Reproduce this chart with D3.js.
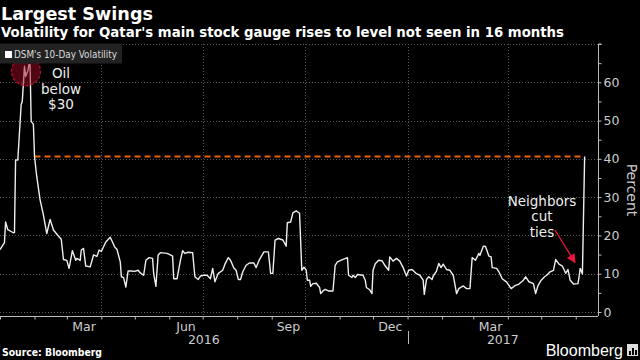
<!DOCTYPE html>
<html><head><meta charset="utf-8">
<script src="https://cdn.jsdelivr.net/npm/d3@7"></script>
<style>html,body{margin:0;padding:0;background:#000;}svg{display:block;}</style>
</head><body>
<svg id="c" width="640" height="360"></svg>
<script>
// ---- data ----
const dates = ["2016-01-01","2016-01-05","2016-01-06","2016-01-08","2016-01-13","2016-01-14","2016-01-15","2016-01-17","2016-01-20","2016-01-21","2016-01-23","2016-01-24","2016-01-26","2016-01-27","2016-01-28","2016-01-29","2016-01-31",
"2016-02-01","2016-02-03","2016-02-06","2016-02-09","2016-02-12","2016-02-15","2016-02-18","2016-02-22","2016-02-25","2016-02-27",
"2016-03-01","2016-03-03","2016-03-06","2016-03-09","2016-03-10","2016-03-13","2016-03-14","2016-03-16","2016-03-18","2016-03-22","2016-03-25","2016-03-28","2016-03-30",
"2016-04-01","2016-04-05","2016-04-09","2016-04-11","2016-04-13","2016-04-15","2016-04-18","2016-04-19","2016-04-21","2016-04-23","2016-04-25","2016-04-28",
"2016-05-01","2016-05-04","2016-05-06","2016-05-09","2016-05-11","2016-05-14","2016-05-17","2016-05-18","2016-05-20","2016-05-22","2016-05-24","2016-05-30",
"2016-06-02","2016-06-04","2016-06-05","2016-06-08","2016-06-11","2016-06-13","2016-06-15","2016-06-18","2016-06-22","2016-06-24","2016-06-27","2016-06-29",
"2016-07-02","2016-07-05","2016-07-08","2016-07-10","2016-07-12","2016-07-15","2016-07-19","2016-07-21","2016-07-24","2016-07-26","2016-07-29","2016-07-31",
"2016-08-02","2016-08-04","2016-08-06","2016-08-09","2016-08-12","2016-08-16","2016-08-18","2016-08-21","2016-08-25","2016-08-29","2016-08-31",
"2016-09-02","2016-09-04","2016-09-07","2016-09-11","2016-09-14","2016-09-15","2016-09-18","2016-09-20","2016-09-23","2016-09-26","2016-09-28","2016-09-30",
"2016-10-02","2016-10-03","2016-10-05","2016-10-06","2016-10-08","2016-10-11","2016-10-14","2016-10-15","2016-10-17","2016-10-19","2016-10-22","2016-10-26","2016-10-28","2016-10-30",
"2016-11-03","2016-11-08","2016-11-09","2016-11-12","2016-11-13","2016-11-15","2016-11-17","2016-11-22","2016-11-24","2016-11-25","2016-11-28","2016-11-30",
"2016-12-01","2016-12-03","2016-12-06","2016-12-09","2016-12-12","2016-12-15","2016-12-16","2016-12-19","2016-12-22","2016-12-25","2016-12-28","2016-12-31",
"2017-01-02","2017-01-05","2017-01-09","2017-01-12","2017-01-15","2017-01-16","2017-01-18","2017-01-20","2017-01-23","2017-01-24","2017-01-27","2017-01-29","2017-01-31",
"2017-02-02","2017-02-05","2017-02-08","2017-02-11","2017-02-14","2017-02-16","2017-02-20","2017-02-23","2017-02-26","2017-02-28",
"2017-03-03","2017-03-06","2017-03-07","2017-03-10","2017-03-12","2017-03-15","2017-03-17","2017-03-18","2017-03-22","2017-03-24","2017-03-27","2017-03-31",
"2017-04-04","2017-04-07","2017-04-11","2017-04-15","2017-04-17","2017-04-20","2017-04-24","2017-04-26","2017-04-28",
"2017-05-01","2017-05-04","2017-05-06","2017-05-09","2017-05-12","2017-05-14","2017-05-17","2017-05-20","2017-05-23","2017-05-25","2017-05-27","2017-05-30",
"2017-06-03","2017-06-04","2017-06-05","2017-06-07","2017-06-09"];
const volatility = [16.3,18.1,23.5,21.5,20.7,20.8,39.7,39.7,54.2,55,64.2,61.5,63,64.6,64.6,49.8,49,
40.6,35.4,29.3,25.3,20.5,24.2,21.4,20,19,13.7,
13.5,11.4,16,13.5,14,13.5,16.2,16.6,12,11.8,14.9,14.5,16.2,
15.8,18.3,19.5,18.3,17,16.4,13.1,9.2,9,6.5,10.7,10.7,
10.6,10.9,10.2,9.6,13.5,14.2,14,10,6.7,14.9,15.5,15.3,
14.9,14.6,8.7,8.7,13.5,16,15.3,15.6,15.5,9.2,8.5,9.4,
9.6,9.6,8.7,11.4,7.9,10.1,10.9,12.5,14.2,13.5,11.5,10.9,
8.5,8.5,10.5,12.2,12.8,12.8,11.6,13.7,15.7,15.7,10.1,
10.1,18.8,19.2,18.8,17.2,23.3,23.5,25.9,26.4,25.8,10.9,11.7,
10.9,8.3,8.3,6.7,7.4,7.5,6.4,4.8,5.5,5.9,5.5,5.5,12.2,13.1,
13.6,14.2,9.6,9,9.6,9,9.8,9.6,8.3,6.4,5.8,4.8,
10.9,12.6,13.5,13.4,12,10.9,14.4,13.3,14,13.3,11.6,9.4,
10.9,11.1,10,9.6,8.3,4.6,8.5,9.2,8.5,9.4,10.7,12.7,11.6,
12.5,11.1,10.9,9.6,4.8,6.1,6.8,6.1,6.1,14.2,
13.5,15.3,14.8,17.2,17.1,14.6,14.4,11.6,11.4,10.5,8.7,7.8,
6.1,6.8,7.3,8.3,9.2,7.9,7.4,4.8,6.8,
8.3,9.2,9.6,10.5,10.9,13.7,12.5,12,10.1,11.1,8.3,7.3,
7.4,9.2,11.4,9.9,40.6];
const yTicks = [0,10,20,30,40,50,60];
const monthLabels = ["Mar","Jun","Sep","Dec","Mar"];
const monthLabelDates = ["2016-03-01","2016-06-01","2016-09-01","2016-12-01","2017-03-01"];
const yearLabels = ["2016","2017"];
const gridDates = ["2016-04-01","2016-07-01","2016-10-01","2017-01-01","2017-04-01"];
const refStart = "2016-02-01", refEnd = "2017-06-09", refValue = 40.6;

// ---- chart ----
const parse = d3.utcParse("%Y-%m-%d");
const data = dates.map((d,i)=>({date:parse(d), v:volatility[i]}));
const svg = d3.select("#c");
svg.append("rect").attr("width",640).attr("height",360).attr("fill","#000");

const x0 = parse("2016-01-01"), x1 = parse("2017-06-21");
const x = d3.scaleUtc().domain([x0,x1]).range([0,598]);
const y = d3.scaleLinear().domain([0,70]).range([312,44]);
const font = "'DejaVu Sans', sans-serif";

// titles
svg.append("text").attr("x",1).attr("y",19.5).attr("fill","#fff").attr("font-family",font)
  .attr("font-weight","bold").attr("font-size",18).attr("textLength",152).attr("lengthAdjust","spacingAndGlyphs").text("Largest Swings");
svg.append("text").attr("x",1).attr("y",37).attr("fill","#fff").attr("font-family",font)
  .attr("font-weight","bold").attr("font-size",14).attr("textLength",563).attr("lengthAdjust","spacingAndGlyphs")
  .text("Volatility for Qatar's main stock gauge rises to level not seen in 16 months");

// grid
const grid = svg.append("g").attr("stroke","#555").attr("stroke-width",1).attr("stroke-dasharray","1,2");
grid.selectAll("line.h").data(d3.range(0,71,10)).join("line").attr("class","h")
  .attr("x1",0).attr("x2",598).attr("y1",d=>Math.round(y(d))+0.5).attr("y2",d=>Math.round(y(d))+0.5);
grid.selectAll("line.v").data(gridDates.map(parse)).join("line").attr("class","v")
  .attr("x1",d=>Math.round(x(d))+0.5).attr("x2",d=>Math.round(x(d))+0.5).attr("y1",44).attr("y2",316);

// x axis
const xAxis = d3.axisBottom(x).ticks(d3.utcMonth.every(1)).tickSize(3).tickFormat("");
const gx = svg.append("g").attr("transform","translate(0,316.5)").call(xAxis);
gx.select(".domain").attr("stroke","#bbb").attr("d","M0,0H598");
gx.selectAll(".tick line").attr("stroke","#bbb");
const mid = d => new Date((+d + +d3.utcMonth.offset(d,1))/2);
svg.selectAll("text.ml").data(monthLabelDates.map(parse)).join("text").attr("class","ml")
  .attr("x",d=>x(mid(d))).attr("y",331).attr("text-anchor","middle").attr("fill","#ccc")
  .attr("font-family",font).attr("font-size",12.5).text((d,i)=>monthLabels[i]);
const yearSpan = [[x0, parse("2017-01-01")],[parse("2017-01-01"), x1]];
svg.selectAll("text.yl").data(yearSpan).join("text").attr("class","yl")
  .attr("x",d=>(x(d[0])+x(d[1]))/2).attr("y",344).attr("text-anchor","middle").attr("fill","#ccc")
  .attr("font-family",font).attr("font-size",12.5).text((d,i)=>yearLabels[i]);
svg.append("line").attr("x1",Math.round(x(parse("2017-01-01")))+0.5).attr("x2",Math.round(x(parse("2017-01-01")))+0.5)
  .attr("y1",331).attr("y2",344).attr("stroke","#bbb");

// y axis (right)
const yAxis = d3.axisRight(y).tickValues(d3.range(0,71,5)).tickSize(3).tickPadding(2)
  .tickFormat(d=>yTicks.includes(d)?d:"");
const gy = svg.append("g").attr("transform","translate(598.5,0)").call(yAxis);
gy.select(".domain").attr("stroke","#bbb").attr("d","M3,44H0V316");
gy.selectAll(".tick line").attr("stroke","#bbb");
gy.selectAll(".tick text").attr("fill","#ccc").attr("font-family",font).attr("font-size",12.5);
svg.append("text").attr("transform","translate(627,190) rotate(90)").attr("text-anchor","middle")
  .attr("fill","#ccc").attr("font-family",font).attr("font-size",14).text("Percent");

// reference dashed line
svg.append("line").attr("x1",x(parse(refStart))).attr("x2",x(parse(refEnd)))
  .attr("y1",y(refValue)).attr("y2",y(refValue)).attr("stroke","#e8620e").attr("stroke-width",2)
  .attr("stroke-dasharray","6,4");

// series line
const line = d3.line().x(d=>x(d.date)).y(d=>y(d.v));
svg.append("path").datum(data).attr("d",line).attr("fill","none").attr("stroke","#eee").attr("stroke-width",1.4)
  .attr("stroke-linejoin","round");

// circle annotation
const peak = data.reduce((a,b)=>b.v>a.v?b:a);
svg.append("circle").attr("cx",x(peak.date)-3).attr("cy",y(peak.v)+6.5).attr("r",14.5)
  .attr("fill","rgba(160,12,36,0.5)").attr("stroke","#b81236").attr("stroke-width",1.2).attr("stroke-dasharray","3,2");

// legend
svg.append("rect").attr("x",0).attr("y",43.5).attr("width",122).attr("height",20).attr("fill","#222");
svg.append("rect").attr("x",5).attr("y",51).attr("width",7).attr("height",7).attr("fill","#fff");
svg.append("text").attr("x",14).attr("y",58.3).attr("fill","#ddd").attr("font-family",font).attr("font-size",10.5)
  .attr("textLength",103).attr("lengthAdjust","spacingAndGlyphs").text("DSM's 10-Day Volatility");

// annotations text
const ann = (lines, cx, y0) => lines.forEach((t,i)=>svg.append("text").attr("x",cx).attr("y",y0+i*15.5)
  .attr("text-anchor","middle").attr("fill","#eee").attr("font-family",font).attr("font-size",13.5).text(t));
ann(["Oil","below","$30"], 61, 78);
ann(["Neighbors","cut","ties"], 542, 205.5);

// red arrow
svg.append("defs").append("marker").attr("id","ah").attr("viewBox","0 0 10 10").attr("refX",9).attr("refY",5)
  .attr("markerWidth",7).attr("markerHeight",7).attr("orient","auto")
  .append("path").attr("d","M0,0L10,5L0,10z").attr("fill","#e8173a");
svg.append("line").attr("x1",555).attr("y1",230).attr("x2",575).attr("y2",262.5).attr("stroke","#e8173a")
  .attr("stroke-width",1.3).attr("marker-end","url(#ah)");

// footer
svg.append("text").attr("x",2).attr("y",356).attr("fill","#fff").attr("font-family",font).attr("font-weight","bold")
  .attr("font-size",10.5).attr("textLength",100).attr("lengthAdjust","spacingAndGlyphs").text("Source: Bloomberg");
svg.append("text").attr("x",623).attr("y",356).attr("text-anchor","end").attr("fill","#fff").attr("font-family","'Liberation Sans', sans-serif")
  .attr("font-size",16).text("Bloomberg");
const logo = svg.append("g").attr("transform","translate(627,344)");
logo.append("rect").attr("width",11).attr("height",12).attr("fill","#ddd");
logo.selectAll("rect.b").data([4,7,5]).join("rect").attr("class","b").attr("x",(d,i)=>2+i*3).attr("y",d=>11-d)
  .attr("width",2).attr("height",d=>d).attr("fill","#000");
</script>
</body></html>
